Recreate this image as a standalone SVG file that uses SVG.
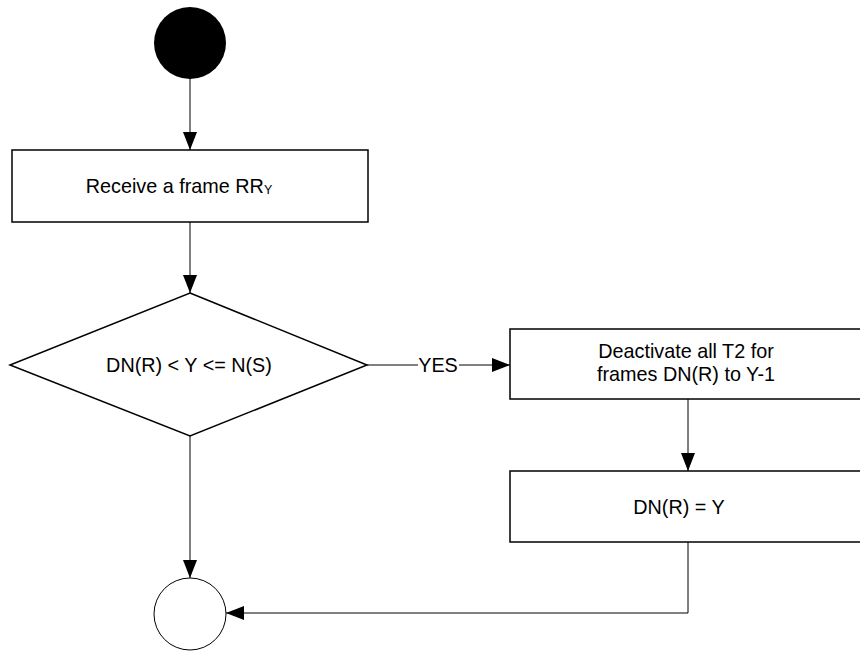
<svg xmlns="http://www.w3.org/2000/svg" width="860" height="651" viewBox="0 0 860 651">
<style>
.node{fill:#fff;stroke:#000;stroke-width:1.5}
.lbl{font-family:"Liberation Sans",Arial,sans-serif;font-size:19.8px;fill:#000;text-anchor:middle}
.conn{fill:none;stroke:#000;stroke-width:1}
</style>
<defs>
<marker id="arr" markerUnits="userSpaceOnUse" markerWidth="18" markerHeight="14" refX="18" refY="7" orient="auto">
<path d="M0,0 L18,7 L0,14 z" fill="#000"/>
</marker>
</defs>
<rect width="860" height="651" fill="#fff"/>
<g id="start"><circle cx="190" cy="43" r="36" fill="#000"/></g>
<g id="receive"><rect class="node" x="12" y="150" width="356" height="72"/>
<text class="lbl" x="179" y="193">Receive a frame RR<tspan font-size="12.5" dy="1">Y</tspan></text></g>
<g id="decision"><polygon class="node" points="190,293 367,365 190,436 10,365"/>
<text class="lbl" x="189" y="372">DN(R) &lt; Y &lt;= N(S)</text></g>
<g id="deactivate"><rect class="node" x="510" y="329" width="356" height="70"/>
<text class="lbl" x="686" y="358">Deactivate all T2 for</text>
<text class="lbl" x="686" y="381">frames DN(R) to Y-1</text></g>
<g id="assign"><rect class="node" x="510" y="471" width="356" height="71"/>
<text class="lbl" x="679" y="514">DN(R) = Y</text></g>
<g id="end"><circle cx="190" cy="614" r="36" fill="#fff" stroke="#000" stroke-width="1"/></g>
<g id="connectors">
<line class="conn" x1="190" y1="79" x2="190" y2="150" marker-end="url(#arr)"/>
<line class="conn" x1="190" y1="222" x2="190" y2="293" marker-end="url(#arr)"/>
<line class="conn" x1="367" y1="365" x2="418" y2="365"/>
<line class="conn" x1="459" y1="365" x2="510" y2="365" marker-end="url(#arr)"/>
<text class="lbl" x="438" y="372">YES</text>
<line class="conn" x1="688" y1="399" x2="688" y2="471" marker-end="url(#arr)"/>
<line class="conn" x1="190" y1="436" x2="190" y2="578" marker-end="url(#arr)"/>
<polyline class="conn" points="688,542 688,613 226,613" marker-end="url(#arr)"/>
</g>
</svg>
